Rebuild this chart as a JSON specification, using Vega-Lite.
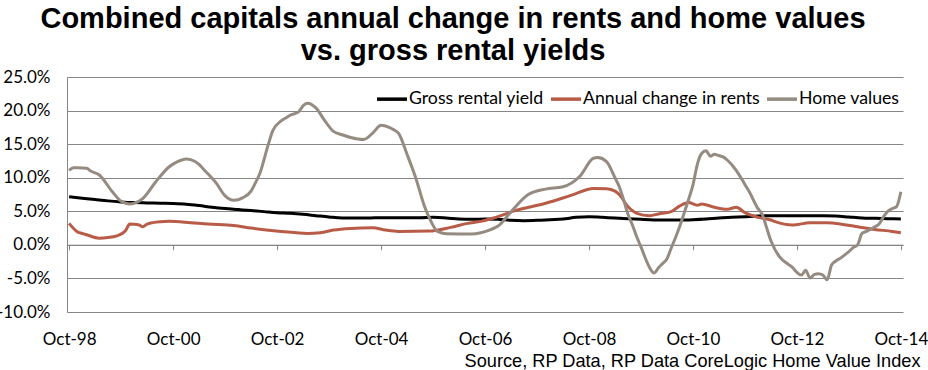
{
  "$schema": "https://vega.github.io/schema/vega-lite/v6.json",
  "width": 836,
  "height": 235,
  "autosize": {"type": "none"},
  "padding": {"left": 67, "top": 77, "right": 25, "bottom": 58},
  "background": "white",
  "title": {
    "text": ["Combined capitals annual change in rents and home values", "vs. gross rental yields"],
    "font": "Liberation Sans",
    "fontSize": 29,
    "fontWeight": "bold",
    "color": "#000000",
    "anchor": "middle",
    "lineHeight": 32,
    "offset": 2,
    "dx": -32
  },
  "data": {
    "values": [
      {"date": "1998-10-01", "series": "Gross rental yield", "value": 7.15},
      {"date": "1999-01-01", "series": "Gross rental yield", "value": 6.95},
      {"date": "1999-04-01", "series": "Gross rental yield", "value": 6.75},
      {"date": "1999-07-01", "series": "Gross rental yield", "value": 6.55},
      {"date": "1999-10-01", "series": "Gross rental yield", "value": 6.4},
      {"date": "2000-01-01", "series": "Gross rental yield", "value": 6.3},
      {"date": "2000-04-01", "series": "Gross rental yield", "value": 6.25},
      {"date": "2000-07-01", "series": "Gross rental yield", "value": 6.2},
      {"date": "2000-10-01", "series": "Gross rental yield", "value": 6.15},
      {"date": "2001-01-01", "series": "Gross rental yield", "value": 6.05},
      {"date": "2001-04-01", "series": "Gross rental yield", "value": 5.85},
      {"date": "2001-07-01", "series": "Gross rental yield", "value": 5.6},
      {"date": "2001-10-01", "series": "Gross rental yield", "value": 5.4},
      {"date": "2002-01-01", "series": "Gross rental yield", "value": 5.25},
      {"date": "2002-04-01", "series": "Gross rental yield", "value": 5.1},
      {"date": "2002-07-01", "series": "Gross rental yield", "value": 4.95},
      {"date": "2002-10-01", "series": "Gross rental yield", "value": 4.8},
      {"date": "2003-01-01", "series": "Gross rental yield", "value": 4.7},
      {"date": "2003-04-01", "series": "Gross rental yield", "value": 4.55},
      {"date": "2003-07-01", "series": "Gross rental yield", "value": 4.35},
      {"date": "2003-10-01", "series": "Gross rental yield", "value": 4.15},
      {"date": "2004-01-01", "series": "Gross rental yield", "value": 4.0},
      {"date": "2004-04-01", "series": "Gross rental yield", "value": 4.0},
      {"date": "2004-07-01", "series": "Gross rental yield", "value": 4.0},
      {"date": "2004-10-01", "series": "Gross rental yield", "value": 4.05},
      {"date": "2005-01-01", "series": "Gross rental yield", "value": 4.05},
      {"date": "2005-04-01", "series": "Gross rental yield", "value": 4.05},
      {"date": "2005-07-01", "series": "Gross rental yield", "value": 4.05},
      {"date": "2005-10-01", "series": "Gross rental yield", "value": 4.1},
      {"date": "2006-01-01", "series": "Gross rental yield", "value": 4.0},
      {"date": "2006-04-01", "series": "Gross rental yield", "value": 3.85},
      {"date": "2006-07-01", "series": "Gross rental yield", "value": 3.8},
      {"date": "2006-10-01", "series": "Gross rental yield", "value": 3.85},
      {"date": "2007-01-01", "series": "Gross rental yield", "value": 3.8},
      {"date": "2007-04-01", "series": "Gross rental yield", "value": 3.65},
      {"date": "2007-07-01", "series": "Gross rental yield", "value": 3.6},
      {"date": "2007-10-01", "series": "Gross rental yield", "value": 3.65},
      {"date": "2008-01-01", "series": "Gross rental yield", "value": 3.75},
      {"date": "2008-04-01", "series": "Gross rental yield", "value": 3.85},
      {"date": "2008-07-01", "series": "Gross rental yield", "value": 4.1},
      {"date": "2008-10-01", "series": "Gross rental yield", "value": 4.2},
      {"date": "2009-01-01", "series": "Gross rental yield", "value": 4.1},
      {"date": "2009-04-01", "series": "Gross rental yield", "value": 4.0},
      {"date": "2009-07-01", "series": "Gross rental yield", "value": 3.9},
      {"date": "2009-10-01", "series": "Gross rental yield", "value": 3.8},
      {"date": "2010-01-01", "series": "Gross rental yield", "value": 3.72},
      {"date": "2010-04-01", "series": "Gross rental yield", "value": 3.7},
      {"date": "2010-07-01", "series": "Gross rental yield", "value": 3.7},
      {"date": "2010-10-01", "series": "Gross rental yield", "value": 3.75},
      {"date": "2011-01-01", "series": "Gross rental yield", "value": 3.85},
      {"date": "2011-04-01", "series": "Gross rental yield", "value": 4.0},
      {"date": "2011-07-01", "series": "Gross rental yield", "value": 4.1},
      {"date": "2011-10-01", "series": "Gross rental yield", "value": 4.2},
      {"date": "2012-01-01", "series": "Gross rental yield", "value": 4.3},
      {"date": "2012-04-01", "series": "Gross rental yield", "value": 4.35},
      {"date": "2012-07-01", "series": "Gross rental yield", "value": 4.35},
      {"date": "2012-10-01", "series": "Gross rental yield", "value": 4.35},
      {"date": "2013-01-01", "series": "Gross rental yield", "value": 4.35},
      {"date": "2013-04-01", "series": "Gross rental yield", "value": 4.35},
      {"date": "2013-07-01", "series": "Gross rental yield", "value": 4.3},
      {"date": "2013-10-01", "series": "Gross rental yield", "value": 4.15},
      {"date": "2014-01-01", "series": "Gross rental yield", "value": 4.0},
      {"date": "2014-04-01", "series": "Gross rental yield", "value": 3.95},
      {"date": "2014-07-01", "series": "Gross rental yield", "value": 3.9},
      {"date": "2014-10-01", "series": "Gross rental yield", "value": 3.85},

      {"date": "1998-10-01", "series": "Annual change in rents", "value": 3.2},
      {"date": "1998-12-01", "series": "Annual change in rents", "value": 1.9},
      {"date": "1999-01-01", "series": "Annual change in rents", "value": 1.7},
      {"date": "1999-02-01", "series": "Annual change in rents", "value": 1.5},
      {"date": "1999-05-01", "series": "Annual change in rents", "value": 1.0},
      {"date": "1999-07-01", "series": "Annual change in rents", "value": 1.1},
      {"date": "1999-09-01", "series": "Annual change in rents", "value": 1.35},
      {"date": "1999-11-01", "series": "Annual change in rents", "value": 2.1},
      {"date": "1999-12-01", "series": "Annual change in rents", "value": 3.1},
      {"date": "2000-02-01", "series": "Annual change in rents", "value": 3.0},
      {"date": "2000-03-01", "series": "Annual change in rents", "value": 2.7},
      {"date": "2000-04-01", "series": "Annual change in rents", "value": 3.1},
      {"date": "2000-07-01", "series": "Annual change in rents", "value": 3.45},
      {"date": "2000-09-01", "series": "Annual change in rents", "value": 3.5},
      {"date": "2001-02-01", "series": "Annual change in rents", "value": 3.3},
      {"date": "2001-06-01", "series": "Annual change in rents", "value": 3.1},
      {"date": "2001-12-01", "series": "Annual change in rents", "value": 2.9},
      {"date": "2002-04-01", "series": "Annual change in rents", "value": 2.5},
      {"date": "2002-11-01", "series": "Annual change in rents", "value": 2.0},
      {"date": "2003-05-01", "series": "Annual change in rents", "value": 1.7},
      {"date": "2003-08-01", "series": "Annual change in rents", "value": 1.8},
      {"date": "2003-11-01", "series": "Annual change in rents", "value": 2.2},
      {"date": "2004-03-01", "series": "Annual change in rents", "value": 2.45},
      {"date": "2004-08-01", "series": "Annual change in rents", "value": 2.55},
      {"date": "2004-11-01", "series": "Annual change in rents", "value": 2.2},
      {"date": "2005-02-01", "series": "Annual change in rents", "value": 2.0},
      {"date": "2005-09-01", "series": "Annual change in rents", "value": 2.05},
      {"date": "2006-02-01", "series": "Annual change in rents", "value": 2.6},
      {"date": "2006-06-01", "series": "Annual change in rents", "value": 3.2},
      {"date": "2006-09-01", "series": "Annual change in rents", "value": 3.5},
      {"date": "2006-12-01", "series": "Annual change in rents", "value": 4.0},
      {"date": "2007-01-01", "series": "Annual change in rents", "value": 4.2},
      {"date": "2007-05-01", "series": "Annual change in rents", "value": 5.1},
      {"date": "2007-12-01", "series": "Annual change in rents", "value": 6.2},
      {"date": "2008-06-01", "series": "Annual change in rents", "value": 7.4},
      {"date": "2008-11-01", "series": "Annual change in rents", "value": 8.4},
      {"date": "2009-02-01", "series": "Annual change in rents", "value": 8.35},
      {"date": "2009-04-01", "series": "Annual change in rents", "value": 8.0},
      {"date": "2009-05-01", "series": "Annual change in rents", "value": 7.5},
      {"date": "2009-07-01", "series": "Annual change in rents", "value": 5.7},
      {"date": "2009-09-01", "series": "Annual change in rents", "value": 4.7},
      {"date": "2009-12-01", "series": "Annual change in rents", "value": 4.35},
      {"date": "2010-02-01", "series": "Annual change in rents", "value": 4.6},
      {"date": "2010-05-01", "series": "Annual change in rents", "value": 4.95},
      {"date": "2010-07-01", "series": "Annual change in rents", "value": 5.8},
      {"date": "2010-09-01", "series": "Annual change in rents", "value": 6.3},
      {"date": "2010-11-01", "series": "Annual change in rents", "value": 5.9},
      {"date": "2010-12-01", "series": "Annual change in rents", "value": 6.1},
      {"date": "2011-03-01", "series": "Annual change in rents", "value": 5.6},
      {"date": "2011-06-01", "series": "Annual change in rents", "value": 5.3},
      {"date": "2011-08-01", "series": "Annual change in rents", "value": 5.6},
      {"date": "2011-10-01", "series": "Annual change in rents", "value": 4.8},
      {"date": "2012-01-01", "series": "Annual change in rents", "value": 4.1},
      {"date": "2012-04-01", "series": "Annual change in rents", "value": 3.7},
      {"date": "2012-05-01", "series": "Annual change in rents", "value": 3.45},
      {"date": "2012-09-01", "series": "Annual change in rents", "value": 2.95},
      {"date": "2013-01-01", "series": "Annual change in rents", "value": 3.3},
      {"date": "2013-05-01", "series": "Annual change in rents", "value": 3.3},
      {"date": "2013-09-01", "series": "Annual change in rents", "value": 3.0},
      {"date": "2013-12-01", "series": "Annual change in rents", "value": 2.7},
      {"date": "2014-04-01", "series": "Annual change in rents", "value": 2.3},
      {"date": "2014-08-01", "series": "Annual change in rents", "value": 2.0},
      {"date": "2014-10-01", "series": "Annual change in rents", "value": 1.8},

      {"date": "1998-10-01", "series": "Home values", "value": 11.1},
      {"date": "1998-11-01", "series": "Home values", "value": 11.5},
      {"date": "1998-12-01", "series": "Home values", "value": 11.5},
      {"date": "1999-02-01", "series": "Home values", "value": 11.4},
      {"date": "1999-03-01", "series": "Home values", "value": 11.0},
      {"date": "1999-05-01", "series": "Home values", "value": 10.4},
      {"date": "1999-08-01", "series": "Home values", "value": 7.9},
      {"date": "1999-10-01", "series": "Home values", "value": 6.5},
      {"date": "1999-12-01", "series": "Home values", "value": 6.1},
      {"date": "2000-01-01", "series": "Home values", "value": 6.2},
      {"date": "2000-03-01", "series": "Home values", "value": 6.9},
      {"date": "2000-06-01", "series": "Home values", "value": 9.4},
      {"date": "2000-09-01", "series": "Home values", "value": 11.6},
      {"date": "2000-11-01", "series": "Home values", "value": 12.4},
      {"date": "2001-01-01", "series": "Home values", "value": 12.8},
      {"date": "2001-02-01", "series": "Home values", "value": 12.7},
      {"date": "2001-04-01", "series": "Home values", "value": 12.0},
      {"date": "2001-05-01", "series": "Home values", "value": 11.3},
      {"date": "2001-08-01", "series": "Home values", "value": 9.15},
      {"date": "2001-10-01", "series": "Home values", "value": 7.3},
      {"date": "2001-12-01", "series": "Home values", "value": 6.65},
      {"date": "2002-02-01", "series": "Home values", "value": 7.0},
      {"date": "2002-04-01", "series": "Home values", "value": 8.0},
      {"date": "2002-05-01", "series": "Home values", "value": 9.2},
      {"date": "2002-06-01", "series": "Home values", "value": 10.6},
      {"date": "2002-08-01", "series": "Home values", "value": 15.0},
      {"date": "2002-09-01", "series": "Home values", "value": 17.0},
      {"date": "2002-11-01", "series": "Home values", "value": 18.5},
      {"date": "2002-12-01", "series": "Home values", "value": 18.9},
      {"date": "2003-01-01", "series": "Home values", "value": 19.3},
      {"date": "2003-03-01", "series": "Home values", "value": 19.8},
      {"date": "2003-04-01", "series": "Home values", "value": 20.7},
      {"date": "2003-05-01", "series": "Home values", "value": 21.1},
      {"date": "2003-07-01", "series": "Home values", "value": 20.4},
      {"date": "2003-09-01", "series": "Home values", "value": 18.5},
      {"date": "2003-11-01", "series": "Home values", "value": 16.9},
      {"date": "2004-01-01", "series": "Home values", "value": 16.4},
      {"date": "2004-03-01", "series": "Home values", "value": 16.0},
      {"date": "2004-06-01", "series": "Home values", "value": 15.7},
      {"date": "2004-08-01", "series": "Home values", "value": 16.6},
      {"date": "2004-10-01", "series": "Home values", "value": 17.8},
      {"date": "2004-11-01", "series": "Home values", "value": 17.7},
      {"date": "2005-01-01", "series": "Home values", "value": 17.1},
      {"date": "2005-02-01", "series": "Home values", "value": 16.6},
      {"date": "2005-04-01", "series": "Home values", "value": 13.5},
      {"date": "2005-06-01", "series": "Home values", "value": 10.0},
      {"date": "2005-08-01", "series": "Home values", "value": 5.8},
      {"date": "2005-09-01", "series": "Home values", "value": 4.2},
      {"date": "2005-11-01", "series": "Home values", "value": 2.0},
      {"date": "2006-01-01", "series": "Home values", "value": 1.65},
      {"date": "2006-07-01", "series": "Home values", "value": 1.6},
      {"date": "2006-09-01", "series": "Home values", "value": 1.8},
      {"date": "2006-11-01", "series": "Home values", "value": 2.2},
      {"date": "2007-01-01", "series": "Home values", "value": 2.8},
      {"date": "2007-04-01", "series": "Home values", "value": 4.9},
      {"date": "2007-08-01", "series": "Home values", "value": 7.5},
      {"date": "2007-12-01", "series": "Home values", "value": 8.3},
      {"date": "2008-04-01", "series": "Home values", "value": 8.65},
      {"date": "2008-08-01", "series": "Home values", "value": 10.3},
      {"date": "2008-11-01", "series": "Home values", "value": 12.9},
      {"date": "2008-12-01", "series": "Home values", "value": 13.0},
      {"date": "2009-02-01", "series": "Home values", "value": 12.4},
      {"date": "2009-04-01", "series": "Home values", "value": 10.0},
      {"date": "2009-05-01", "series": "Home values", "value": 8.7},
      {"date": "2009-06-01", "series": "Home values", "value": 6.7},
      {"date": "2009-07-01", "series": "Home values", "value": 4.6},
      {"date": "2009-08-01", "series": "Home values", "value": 3.0},
      {"date": "2009-09-01", "series": "Home values", "value": 1.2},
      {"date": "2009-10-01", "series": "Home values", "value": -0.3},
      {"date": "2009-11-01", "series": "Home values", "value": -2.0},
      {"date": "2009-12-01", "series": "Home values", "value": -3.4},
      {"date": "2010-01-01", "series": "Home values", "value": -4.2},
      {"date": "2010-02-01", "series": "Home values", "value": -3.4},
      {"date": "2010-03-01", "series": "Home values", "value": -2.8},
      {"date": "2010-04-01", "series": "Home values", "value": -2.1},
      {"date": "2010-05-01", "series": "Home values", "value": -0.5},
      {"date": "2010-06-01", "series": "Home values", "value": 1.1},
      {"date": "2010-07-01", "series": "Home values", "value": 2.8},
      {"date": "2010-08-01", "series": "Home values", "value": 4.8},
      {"date": "2010-09-01", "series": "Home values", "value": 6.8},
      {"date": "2010-10-01", "series": "Home values", "value": 8.9},
      {"date": "2010-11-01", "series": "Home values", "value": 12.0},
      {"date": "2010-12-01", "series": "Home values", "value": 13.6},
      {"date": "2011-01-01", "series": "Home values", "value": 14.0},
      {"date": "2011-02-01", "series": "Home values", "value": 13.2},
      {"date": "2011-03-01", "series": "Home values", "value": 13.5},
      {"date": "2011-04-01", "series": "Home values", "value": 13.3},
      {"date": "2011-05-01", "series": "Home values", "value": 13.1},
      {"date": "2011-06-01", "series": "Home values", "value": 12.6},
      {"date": "2011-08-01", "series": "Home values", "value": 11.1},
      {"date": "2011-10-01", "series": "Home values", "value": 9.0},
      {"date": "2011-11-01", "series": "Home values", "value": 7.9},
      {"date": "2012-01-01", "series": "Home values", "value": 5.4},
      {"date": "2012-02-01", "series": "Home values", "value": 4.5},
      {"date": "2012-03-01", "series": "Home values", "value": 2.6},
      {"date": "2012-04-01", "series": "Home values", "value": 0.6},
      {"date": "2012-06-01", "series": "Home values", "value": -1.8},
      {"date": "2012-08-01", "series": "Home values", "value": -2.9},
      {"date": "2012-09-01", "series": "Home values", "value": -3.4},
      {"date": "2012-10-01", "series": "Home values", "value": -4.1},
      {"date": "2012-11-01", "series": "Home values", "value": -4.5},
      {"date": "2012-12-01", "series": "Home values", "value": -3.8},
      {"date": "2013-01-01", "series": "Home values", "value": -4.95},
      {"date": "2013-02-01", "series": "Home values", "value": -4.4},
      {"date": "2013-03-01", "series": "Home values", "value": -4.3},
      {"date": "2013-04-01", "series": "Home values", "value": -4.5},
      {"date": "2013-05-01", "series": "Home values", "value": -5.2},
      {"date": "2013-06-01", "series": "Home values", "value": -3.0},
      {"date": "2013-07-01", "series": "Home values", "value": -2.4},
      {"date": "2013-08-01", "series": "Home values", "value": -2.0},
      {"date": "2013-09-01", "series": "Home values", "value": -1.5},
      {"date": "2013-10-01", "series": "Home values", "value": -1.0},
      {"date": "2013-11-01", "series": "Home values", "value": -0.4},
      {"date": "2013-12-01", "series": "Home values", "value": 0.0},
      {"date": "2014-01-01", "series": "Home values", "value": 1.7},
      {"date": "2014-02-01", "series": "Home values", "value": 2.0},
      {"date": "2014-03-01", "series": "Home values", "value": 2.3},
      {"date": "2014-04-01", "series": "Home values", "value": 2.7},
      {"date": "2014-05-01", "series": "Home values", "value": 3.1},
      {"date": "2014-06-01", "series": "Home values", "value": 4.2},
      {"date": "2014-07-01", "series": "Home values", "value": 5.0},
      {"date": "2014-08-01", "series": "Home values", "value": 5.4},
      {"date": "2014-09-01", "series": "Home values", "value": 5.7},
      {"date": "2014-10-01", "series": "Home values", "value": 7.9}
    ]
  },
  "mark": {"type": "line", "strokeWidth": 3, "interpolate": "monotone"},
  "encoding": {
    "x": {
      "field": "date",
      "type": "temporal",
      "scale": {
        "type": "utc",
        "domain": [
          {"year": 1998, "month": 9, "date": 16, "utc": true},
          {"year": 2014, "month": 10, "date": 16, "utc": true}
        ]
      },
      "axis": {
        "orient": "bottom",
        "offset": -67.3,
        "values": [
          {"year": 1998, "month": 10, "date": 1, "utc": true},
          {"year": 2000, "month": 10, "date": 1, "utc": true},
          {"year": 2002, "month": 10, "date": 1, "utc": true},
          {"year": 2004, "month": 10, "date": 1, "utc": true},
          {"year": 2006, "month": 10, "date": 1, "utc": true},
          {"year": 2008, "month": 10, "date": 1, "utc": true},
          {"year": 2010, "month": 10, "date": 1, "utc": true},
          {"year": 2012, "month": 10, "date": 1, "utc": true},
          {"year": 2014, "month": 10, "date": 1, "utc": true}
        ],
        "labelExpr": "['Jan','Feb','Mar','Apr','May','Jun','Jul','Aug','Sep','Oct','Nov','Dec'][utcmonth(datum.value)] + '-' + substring(toString(utcyear(datum.value)), 2, 4)",
        "grid": false,
        "domain": true,
        "domainColor": "#868686",
        "domainWidth": 1,
        "ticks": true,
        "tickColor": "#868686",
        "tickSize": 5,
        "tickWidth": 1,
        "labelFont": "Lato",
        "labelFontSize": 17,
        "labelColor": "#000000",
        "labelPadding": 95,
        "labelBaseline": "alphabetic",
        "labelFlush": false,
        "labelOverlap": false,
        "title": "Source, RP Data, RP Data CoreLogic Home Value Index",
        "titleFont": "Liberation Sans",
        "titleFontSize": 18.2,
        "titleFontWeight": "normal",
        "titleColor": "#000000",
        "titleX": 853,
        "titleY": 121.7,
        "titleAlign": "right",
        "titleBaseline": "alphabetic"
      }
    },
    "y": {
      "field": "value",
      "type": "quantitative",
      "scale": {"domain": [-10, 25], "nice": false, "zero": false},
      "axis": {
        "values": [-10, -5, 0, 5, 10, 15, 20, 25],
        "labelExpr": "replace(format(datum.value, '.1f'), '\u2212', '-') + '%'",
        "grid": true,
        "gridColor": "#868686",
        "gridWidth": 1,
        "domain": true,
        "domainColor": "#868686",
        "domainWidth": 1,
        "ticks": false,
        "labelFont": "Lato",
        "labelFontSize": 17,
        "labelColor": "#000000",
        "labelPadding": 17,
        "labelBaseline": "middle",
        "title": null
      }
    },
    "color": {
      "field": "series",
      "type": "nominal",
      "scale": {
        "domain": ["Gross rental yield", "Annual change in rents", "Home values"],
        "range": ["#000000", "#B85C48", "#958B81"]
      },
      "legend": {
        "orient": "none",
        "legendX": 308,
        "legendY": 5,
        "direction": "horizontal",
        "title": null,
        "padding": 0,
        "symbolType": "stroke",
        "symbolSize": 900,
        "symbolStrokeWidth": 3.5,
        "labelFont": "Lato",
        "labelFontSize": 17.7,
        "labelColor": "#000000",
        "labelOffset": 0,
        "columnPadding": 0,
        "labelLimit": 300
      }
    }
  },
  "config": {"view": {"stroke": null}}
}
